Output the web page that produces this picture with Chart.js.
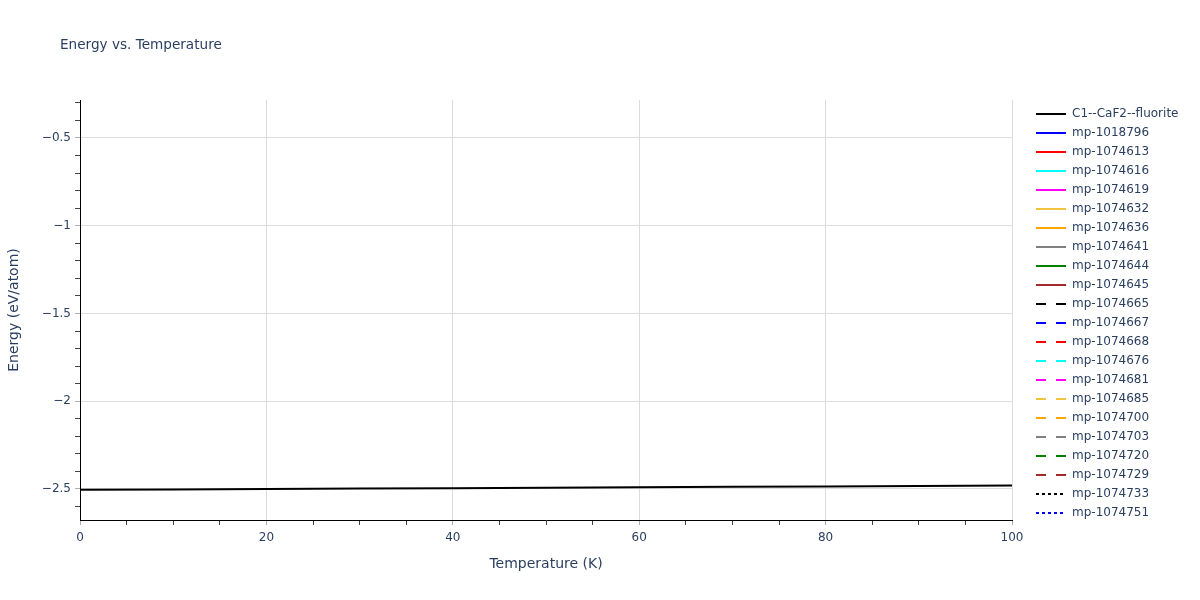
<!DOCTYPE html>
<html>
<head>
<meta charset="utf-8">
<script src="https://cdn.jsdelivr.net/npm/chart.js@4.4.1/dist/chart.umd.min.js"></script>
<style>
  html, body { margin: 0; padding: 0; background: #fff; }
  canvas { display: block; }
</style>
</head>
<body>
<canvas id="energyChart"></canvas>
<script>
// data
const temperatures = [0, 10, 20, 30, 40, 50, 60, 70, 80, 90, 100];
const fluoriteEnergy = [-2.505, -2.5025, -2.500, -2.498, -2.4955, -2.493, -2.4905, -2.488, -2.4855, -2.483, -2.4805];

const seriesNames = [
  'C1--CaF2--fluorite', 'mp-1018796', 'mp-1074613', 'mp-1074616', 'mp-1074619',
  'mp-1074632', 'mp-1074636', 'mp-1074641', 'mp-1074644', 'mp-1074645',
  'mp-1074665', 'mp-1074667', 'mp-1074668', 'mp-1074676', 'mp-1074681',
  'mp-1074685', 'mp-1074700', 'mp-1074703', 'mp-1074720', 'mp-1074729',
  'mp-1074733', 'mp-1074751'
];
const seriesColors = [
  'black', 'blue', 'red', 'cyan', 'magenta', '#f2c43e', 'orange', 'gray', 'green', 'brown',
  'black', 'blue', 'red', 'cyan', 'magenta', '#f2c43e', 'orange', 'gray', 'green', 'brown',
  'black', 'blue'
];
const seriesDash = [
  'solid', 'solid', 'solid', 'solid', 'solid', 'solid', 'solid', 'solid', 'solid', 'solid',
  'dash', 'dash', 'dash', 'dash', 'dash', 'dash', 'dash', 'dash', 'dash', 'dash',
  'dot', 'dot'
];

const xTickValues = [0, 5, 10, 15, 20, 25, 30, 35, 40, 45, 50, 55, 60, 65, 70, 75, 80, 85, 90, 95, 100];
const xLabelValues = [0, 20, 40, 60, 80, 100];
const yTickValues = [-2.6, -2.5, -2.4, -2.3, -2.2, -2.1, -2, -1.9, -1.8, -1.7, -1.6, -1.5,
  -1.4, -1.3, -1.2, -1.1, -1, -0.9, -0.8, -0.7, -0.6, -0.5, -0.4, -0.3];
const yLabelValues = [-2.5, -2, -1.5, -1, -0.5];

const dashPatterns = { solid: [], dash: [10, 10], dot: [3, 3] };
const textColor = '#2a3f5f';
const fontFamily = '"DejaVu Sans", Verdana, sans-serif';

const canvas = document.getElementById('energyChart');
canvas.width = 1200;
canvas.height = 600;
canvas.style.width = '1200px';
canvas.style.height = '600px';
const ctx = canvas.getContext('2d');

const datasets = seriesNames.map((name, i) => ({
  label: name,
  data: i === 0 ? temperatures.map((t, j) => ({ x: t, y: fluoriteEnergy[j] })) : [],
  borderColor: seriesColors[i],
  backgroundColor: seriesColors[i],
  borderDash: dashPatterns[seriesDash[i]],
  borderWidth: 2,
  pointRadius: 0,
  fill: false,
  tension: 0
}));

const isIn = (arr, v) => arr.some(a => Math.abs(a - v) < 1e-6);
const fmt = v => (v < 0 ? '\u2212' : '') + Math.abs(v);

// plotly-like title and legend, drawn on the canvas
const overlay = {
  id: 'overlay',
  afterDraw(chart) {
    const c = chart.ctx;
    c.save();
    c.fillStyle = textColor;
    c.textBaseline = 'middle';
    c.textAlign = 'left';
    c.font = '13.6px ' + fontFamily;
    c.fillText('Energy vs. Temperature', 60, 45);

    c.font = '12px ' + fontFamily;
    chart.data.datasets.forEach((ds, i) => {
      const y = 114 + i * 19;
      c.beginPath();
      c.setLineDash(ds.borderDash);
      c.lineWidth = 2;
      c.strokeStyle = ds.borderColor;
      c.moveTo(1036, y);
      c.lineTo(1066, y);
      c.stroke();
      c.setLineDash([]);
      c.fillText(ds.label, 1072, y);
    });
    c.restore();
  }
};

new Chart(ctx, {
  type: 'line',
  data: { datasets },
  options: {
    responsive: false,
    maintainAspectRatio: false,
    animation: false,
    layout: { padding: { top: 100, right: 188, bottom: 0, left: 0 } },
    plugins: {
      legend: { display: false },
      title: { display: false },
      tooltip: { enabled: false }
    },
    scales: {
      x: {
        type: 'linear',
        min: 0,
        max: 100,
        afterFit: s => { s.height = 80; },
        afterBuildTicks: s => { s.ticks = xTickValues.map(v => ({ value: v })); },
        border: { color: '#000', width: 1 },
        grid: {
          color: c => isIn(xLabelValues, c.tick.value) && c.tick.value !== 0 ? '#dcdcdc' : 'rgba(0,0,0,0)',
          tickColor: c => isIn(xLabelValues, c.tick.value) ? '#b0b0b0' : '#444',
          tickLength: 5,
          tickWidth: 1
        },
        ticks: {
          autoSkip: false,
          maxRotation: 0,
          padding: 6,
          color: textColor,
          font: { family: fontFamily, size: 12 },
          callback: v => isIn(xLabelValues, v) ? String(v) : ''
        },
        title: {
          display: true,
          text: 'Temperature (K)',
          color: textColor,
          font: { family: fontFamily, size: 14 },
          padding: { top: 0, bottom: 27 }
        }
      },
      y: {
        type: 'linear',
        min: -2.677,
        max: -0.2835,
        afterFit: s => { s.width = 80; },
        afterBuildTicks: s => { s.ticks = yTickValues.map(v => ({ value: v })); },
        border: { color: '#000', width: 1 },
        grid: {
          color: c => isIn(yLabelValues, c.tick.value) ? '#dcdcdc' : 'rgba(0,0,0,0)',
          tickColor: c => isIn(yLabelValues, c.tick.value) ? '#b0b0b0' : '#444',
          tickLength: 5,
          tickWidth: 1
        },
        ticks: {
          autoSkip: false,
          padding: 4,
          color: textColor,
          font: { family: fontFamily, size: 12 },
          callback: v => isIn(yLabelValues, v) ? fmt(v) : ''
        },
        title: {
          display: true,
          text: 'Energy (eV/atom)',
          color: textColor,
          font: { family: fontFamily, size: 14 },
          padding: { top: 6, bottom: 0 }
        }
      }
    }
  },
  plugins: [overlay]
});
</script>
</body>
</html>
